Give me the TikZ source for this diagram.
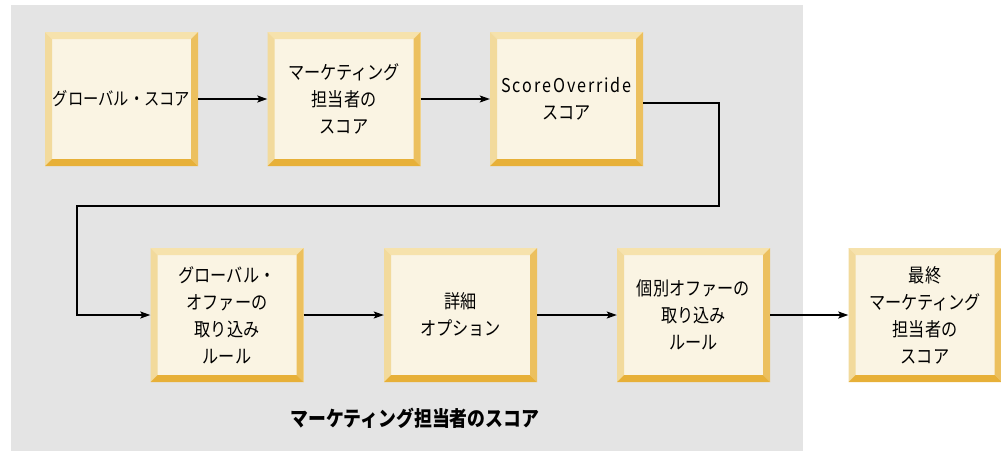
\documentclass[tikz,border=0pt]{standalone}
\usepackage{fontspec}
\setmainfont{Noto Sans CJK JP}[FakeStretch=0.85]
\usetikzlibrary{arrows.meta}
\definecolor{bgc}{HTML}{E4E4E4}
\definecolor{boxin}{HTML}{FAF4E3}
\definecolor{bevT}{HTML}{F6E2AC}
\definecolor{bevL}{HTML}{F2DA9C}
\definecolor{bevR}{HTML}{ECC05E}
\definecolor{bevB}{HTML}{E7B038}
\tikzset{
  bev/.style={minimum width=153pt, minimum height=134pt, inner sep=0pt, align=center,
    fill=boxin, font=\fontsize{19}{27}\selectfont,
    path picture={
      \fill[bevT] (path picture bounding box.north west) -- (path picture bounding box.north east)
        -- ([xshift=-7pt,yshift=-7pt]path picture bounding box.north east)
        -- ([xshift=7pt,yshift=-7pt]path picture bounding box.north west) -- cycle;
      \fill[bevL] (path picture bounding box.north west) -- (path picture bounding box.south west)
        -- ([xshift=7pt,yshift=7pt]path picture bounding box.south west)
        -- ([xshift=7pt,yshift=-7pt]path picture bounding box.north west) -- cycle;
      \fill[bevR] (path picture bounding box.north east) -- (path picture bounding box.south east)
        -- ([xshift=-7pt,yshift=7pt]path picture bounding box.south east)
        -- ([xshift=-7pt,yshift=-7pt]path picture bounding box.north east) -- cycle;
      \fill[bevB] (path picture bounding box.south west) -- (path picture bounding box.south east)
        -- ([xshift=-7pt,yshift=7pt]path picture bounding box.south east)
        -- ([xshift=7pt,yshift=7pt]path picture bounding box.south west) -- cycle;
    }},
  arr/.style={draw=black, line width=1.4pt, -{Stealth[length=10pt,width=7pt,inset=2pt]}},
  lbl/.style={font=\bfseries\fontsize{21}{24}\selectfont}
}
\begin{document}
\begin{tikzpicture}[x=1pt,y=-1pt]
\useasboundingbox (0,0) rectangle (1001,451);
\fill[bgc] (11,5) rectangle (803,451);
\node[bev, font=\fontsize{18}{27}\selectfont] (b1) at (121.5,99) {グローバル・スコア};
\node[bev] (b2) at (344,99) {マーケティング\\担当者の\\スコア};
\node[bev] (b3) at (566.5,99) {{\addfontfeature{LetterSpace=10}ScoreOverride}\\スコア};
\node[bev] (b4) at (227,315) {グローバル・\\オファーの\\取り込み\\ルール};
\node[bev] (b5) at (460.5,315) {詳細\\オプション};
\node[bev] (b6) at (693.5,315) {個別オファーの\\取り込み\\ルール};
\node[bev] (b7) at (925,315) {最終\\マーケティング\\担当者の\\スコア};
\node[lbl] (lab) at (415,418) {マーケティング担当者のスコア};
\coordinate (c1) at (719,206);
\coordinate (c2) at (77,206);
\draw[arr] (b1) -- (b2);
\draw[arr] (b2) -- (b3);
\draw[arr] ([yshift=-4pt]b3.east) -| (c1) -- (c2) |- (b4.west);
\draw[arr] (b4) -- (b5);
\draw[arr] (b5) -- (b6);
\draw[arr] (b6) -- (b7);
\end{tikzpicture}
\end{document}
